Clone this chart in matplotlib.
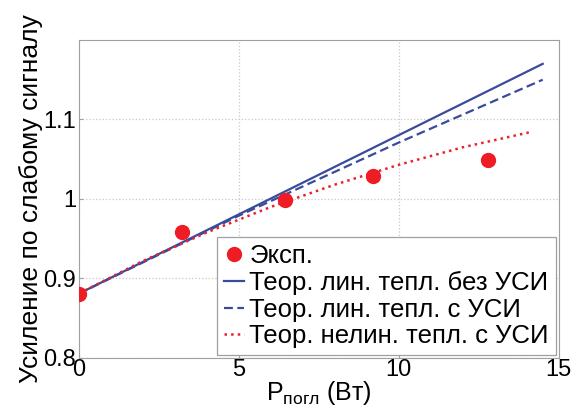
import matplotlib
matplotlib.use("Agg")
import matplotlib.pyplot as plt

plt.rcParams["font.family"] = ["Liberation Sans", "DejaVu Sans"]
plt.rcParams["mathtext.fontset"] = "custom"
plt.rcParams["mathtext.rm"] = "Liberation Sans"

# experimental points
p_exp = [0, 3.22, 6.44, 9.19, 12.8]
g_exp = [0.881, 0.959, 0.999, 1.029, 1.049]

# theory, linear thermal, no ASE
p_lin = [0, 14.5]
g_lin = [0.881, 1.17]

# theory, linear thermal, with ASE
p_lin_ase = [0, 5, 10, 14.5]
g_lin_ase = [0.881, 0.979, 1.071, 1.15]

# theory, nonlinear thermal, with ASE
p_nl = [0, 2, 4, 6, 8, 10, 12, 14.1]
g_nl = [0.881, 0.922, 0.958, 0.990, 1.018, 1.043, 1.065, 1.084]

labels = ["Эксп.", "Теор. лин. тепл. без УСИ",
          "Теор. лин. тепл. с УСИ", "Теор. нелин. тепл. с УСИ"]

fig = plt.figure(figsize=(5.76, 4.19), dpi=100)
ax = fig.add_axes([0.137, 0.1456, 0.833, 0.759])

ax.plot(p_exp, g_exp, "o", color="#ee1c25", markersize=10, label=labels[0], zorder=4)
ax.plot(p_lin, g_lin, "-", color="#3a4b9c", lw=1.6, label=labels[1])
ax.plot(p_lin_ase, g_lin_ase, "--", color="#3a4b9c", lw=1.6, label=labels[2],
        dashes=(4, 2))
ax.plot(p_nl, g_nl, ":", color="#e8232b", lw=1.8, label=labels[3])

ax.set_xlim(0, 15)
ax.set_ylim(0.8, 1.2)
ax.set_xticks([0, 5, 10, 15])
ax.set_yticks([0.8, 0.9, 1.0, 1.1])
ax.set_xticklabels(["0", "5", "10", "15"])
ax.set_yticklabels(["0.8", "0.9", "1", "1.1"])
ax.tick_params(direction="in", length=3, labelsize=17, color="#a0a0a0", pad=2)
ax.tick_params(axis="x", pad=1)
ax.grid(True, color="#c8c8c8", linestyle=":", lw=0.9)
for s in ax.spines.values():
    s.set_color("#a0a0a0")

ax.set_ylabel("Усиление по слабому сигналу", fontsize=19, labelpad=0)
ax.set_xlabel(r"$\mathregular{P_{погл}}$ (Вт)", fontsize=18, labelpad=-2)

leg = ax.legend(loc="lower right", fontsize=18.5, handlelength=0.8, handletextpad=0.2,
                borderaxespad=0.1, borderpad=0.28, labelspacing=0.1, fancybox=False,
                framealpha=1, edgecolor="#a0a0a0")
leg.get_frame().set_linewidth(0.9)

fig.savefig("out.png", dpi=100)
